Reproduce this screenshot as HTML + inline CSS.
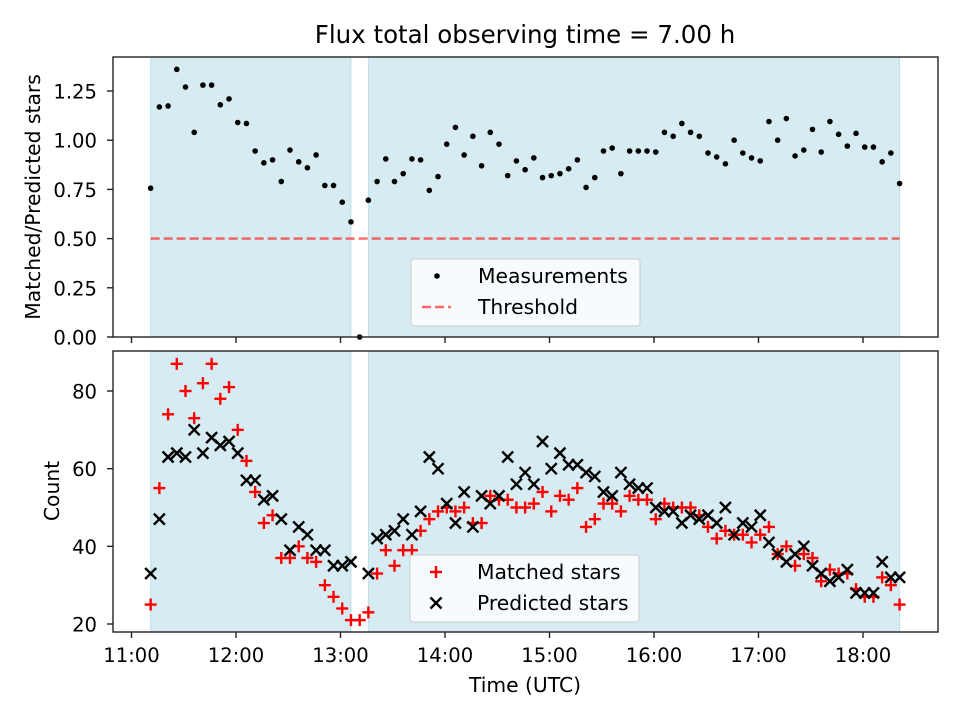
<!DOCTYPE html>
<html><head><meta charset="utf-8">
<style>
html,body{margin:0;padding:0;background:#fff;}
svg text{font-family:"DejaVu Sans","Liberation Sans",sans-serif;fill:#000;}
</style></head>
<body>
<svg id="chart" width="960" height="720" viewBox="0 0 960 720" xmlns="http://www.w3.org/2000/svg">
<text x="525" y="43" font-size="24.5" text-anchor="middle">Flux total observing time = 7.00 h</text>
<text transform="translate(40,197) rotate(-90)" font-size="20.3" text-anchor="middle">Matched/Predicted stars</text>
<text transform="translate(59,491) rotate(-90)" font-size="20.3" text-anchor="middle">Count</text>
<text x="525" y="692" font-size="20.3" text-anchor="middle">Time (UTC)</text>
</svg>
<script>
// minutes after 11:00 UTC
const timesMin = [11,16,21,26,31,36,41,46,51,56,61,66,71,76,81,86,91,96,101,106,111,116,121,126,131,136,141,146,151,156,161,166,171,176,181,186,191,196,201,206,211,216,221,226,231,236,241,246,251,256,261,266,271,276,281,286,291,296,301,306,311,316,321,326,331,336,341,346,351,356,361,366,371,376,381,386,391,396,401,406,411,416,421,426,431,436,441];
const ratioValues = [0.756,1.169,1.174,1.36,1.27,1.04,1.28,1.28,1.18,1.21,1.09,1.085,0.945,0.885,0.90,0.79,0.95,0.89,0.86,0.925,0.77,0.77,0.685,0.585,0,
0.695,0.79,0.905,0.79,0.83,0.905,0.90,0.745,0.815,0.98,1.065,0.925,1.02,0.87,1.04,0.98,0.82,0.895,0.85,0.91,0.81,0.82,0.83,0.855,0.90,0.76,0.81,0.945,0.96,0.83,0.945,0.945,0.945,0.94,
1.04,1.02,1.085,1.04,1.02,0.935,0.915,0.88,1.0,0.935,0.91,0.895,1.095,1.0,1.11,0.92,0.95,1.055,0.94,1.095,1.03,0.97,1.035,0.965,0.965,0.89,0.935,0.78];
const matchedStars = [25,55,74,87,80,73,82,87,78,81,70,62,54,46,48,37,37,40,37,36,30,27,24,21,21,
23,33,39,35,39,39,44,47,49,50,49,50,46,46,53,52,52,50,50,51,54,49,53,52,55,45,47,51,51,49,53,52,52,47,
51,50,50,50,48,45,42,44,43,43,41,43,45,38,40,35,38,37,31,34,33,33,29,27,27,32,30,25];
const predictedStars = [33,47,63,64,63,70,64,68,66,67,64,57,57,52,53,47,39,45,43,39,39,35,35,36,null,
33,42,43,44,47,43,49,63,60,51,46,54,45,53,51,53,63,56,59,56,67,60,64,61,61,59,58,54,53,59,56,55,55,50,
49,49,46,48,47,48,46,50,43,46,45,48,41,38,36,38,40,35,33,31,32,34,28,28,28,36,32,32];
const thresholdValue = 0.5;
const observingSpans = [[11,126],[136,441]]; // minutes
const xTickLabels = ["11:00","12:00","13:00","14:00","15:00","16:00","17:00","18:00"];
const xTickMinutes = [0,60,120,180,240,300,360,420];
const topYTicks = [0,0.25,0.5,0.75,1.0,1.25];
const bottomYTicks = [20,40,60,80];

const NS="http://www.w3.org/2000/svg";
const svg=document.getElementById('chart');
const L=113,R=938;
const FS=19.6;
const topP={t:57,b:337,min:0,max:1.4228};
const botP={t:351,b:632,min:17.94,max:90.3};
function xs(m){return 131.5+m/60*104.5;}
function ysTop(v){return topP.b-(v-topP.min)/(topP.max-topP.min)*(topP.b-topP.t);}
function ysBot(v){return botP.b-(v-botP.min)/(botP.max-botP.min)*(botP.b-botP.t);}
function mk(tag,attrs,parent){const e=document.createElementNS(NS,tag);for(const k in attrs)e.setAttribute(k,attrs[k]);(parent||svg).appendChild(e);return e;}

function panel(p,name){
  const g=mk('g',{});
  
  
  observingSpans.forEach((s,i)=>{
    const r=mk('rect',{x:xs(s[0]),y:p.t,width:xs(s[1])-xs(s[0]),height:p.b-p.t,fill:'#add8e6','fill-opacity':0.5,stroke:'#add8e6','stroke-opacity':0.7,'stroke-width':1},g);
    
    
  });
  return g;
}
function frame(p,name,yt,yfn,fmt,labels){
  const g=mk('g',{});
  
  
  mk('rect',{x:L,y:p.t,width:R-L,height:p.b-p.t,fill:'none',stroke:'#222','stroke-width':1.4},g);
  yt.forEach(v=>{
    const y=yfn(v);
    mk('line',{x1:L-6,x2:L,y1:y,y2:y,stroke:'#222','stroke-width':1.4},g);
    const t=mk('text',{x:L-16,y:y+7.5,'font-size':FS,'text-anchor':'end'},g);
    t.textContent=fmt(v);
    
    
  });
  xTickMinutes.forEach((m,i)=>{
    const x=xs(m);
    mk('line',{x1:x,x2:x,y1:p.b,y2:p.b+6,stroke:'#222','stroke-width':1.4},g);
    if(labels){
      const t=mk('text',{x:x,y:p.b+30,'font-size':FS,'text-anchor':'middle'},g);
      t.textContent=xTickLabels[i];
      
      
    }
  });
}

// top panel
panel(topP,'ratio-panel');
const thr=mk('line',{x1:xs(timesMin[0]),x2:xs(timesMin[timesMin.length-1]),y1:ysTop(thresholdValue),y2:ysTop(thresholdValue),stroke:'#ff0000','stroke-opacity':0.6,'stroke-width':2.4,'stroke-dasharray':'9,4'});


ratioValues.forEach((v,i)=>{
  const c=mk('circle',{cx:xs(timesMin[i]),cy:ysTop(v),r:2.8,fill:'#000'});
  
  
});
frame(topP,'ratio-axes',topYTicks,ysTop,v=>v.toFixed(2),false);

// bottom panel
panel(botP,'count-panel');
function plus(x,y){
  const g=mk('g',{stroke:'#ff0000','stroke-width':2.4});
  mk('line',{x1:x-6,x2:x+6,y1:y,y2:y},g);
  mk('line',{x1:x,x2:x,y1:y-6,y2:y+6},g);
  return g;
}
function cross(x,y){
  const g=mk('g',{stroke:'#000','stroke-width':2.4});
  mk('line',{x1:x-5.5,x2:x+5.5,y1:y-5.5,y2:y+5.5},g);
  mk('line',{x1:x-5.5,x2:x+5.5,y1:y+5.5,y2:y-5.5},g);
  return g;
}
matchedStars.forEach((v,i)=>{
  if(v==null)return;
  const g=plus(xs(timesMin[i]),ysBot(v));
  
  
});
predictedStars.forEach((v,i)=>{
  if(v==null)return;
  const g=cross(xs(timesMin[i]),ysBot(v));
  
  
});
frame(botP,'count-axes',bottomYTicks,ysBot,v=>String(v),true);

// legends
function legend(x,y,name,entries){
  const g=mk('g',{});
  
  
  mk('rect',{x:x,y:y,width:229,height:67,rx:3,fill:'#fff','fill-opacity':0.8,stroke:'#cccccc','stroke-width':1},g);
  entries.forEach((e,i)=>{
    const cy=y+17+i*31;
    const m=e.draw(x+26,cy);
    g.appendChild(m);
    const t=mk('text',{x:x+67,y:cy+7,'font-size':20.3},g);
    t.textContent=e.label;
    
    
  });
}
legend(411,259,'ratio-legend',[
  {label:'Measurements',draw:(x,y)=>mk('circle',{cx:x,cy:y,r:2.8,fill:'#000'})},
  {label:'Threshold',draw:(x,y)=>mk('line',{x1:x-15,x2:x+14,y1:y,y2:y,stroke:'#ff0000','stroke-opacity':0.6,'stroke-width':2.4,'stroke-dasharray':'9,4'})}
]);
legend(410,555,'count-legend',[
  {label:'Matched stars',draw:(x,y)=>plus(x,y)},
  {label:'Predicted stars',draw:(x,y)=>cross(x,y)}
]);
</script>
</body></html>
